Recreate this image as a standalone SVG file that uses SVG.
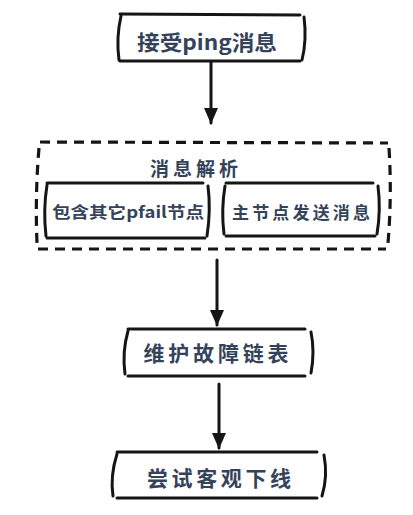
<svg xmlns="http://www.w3.org/2000/svg" width="413" height="515" viewBox="0 0 413 515">
<defs>
<style>
.ln{fill:none;stroke:#151515;stroke-width:3;stroke-linecap:round;stroke-linejoin:round}
.dash{fill:none;stroke:#151515;stroke-width:3.2;stroke-dasharray:10 7;stroke-linecap:butt}
.t{font-family:"Noto Sans CJK SC","Liberation Serif",serif;font-weight:bold;fill:#34435a;text-anchor:middle;dominant-baseline:central}
</style>
<marker id="ah" viewBox="0 0 16 14" refX="15" refY="7" markerWidth="16" markerHeight="14" markerUnits="userSpaceOnUse" orient="auto">
<path d="M0 0 L16 7 L0 14 Z" fill="#151515"/>
</marker>
</defs>
<rect width="413" height="515" fill="#ffffff"/>

<g id="node-receive">
<path class="ln" d="M120 14 L300 15"/>
<path class="ln" d="M120 61 L300 61"/>
<path class="ln" d="M121 16 Q116 38 119 60"/>
<path class="ln" d="M304 17 Q307 40 302 60"/>
<text class="t" x="207" y="41" font-size="21" textLength="140" lengthAdjust="spacingAndGlyphs">接受ping消息</text>
</g>

<g id="group-parse">
<path class="dash" d="M40 142 L388 143"/>
<path class="dash" d="M38 249 L386 249"/>
<path class="dash" d="M39 148 Q35 195 37 243"/>
<path class="dash" d="M389 148 Q392 195 388 243"/>
<text class="t" x="194" y="167" font-size="19" textLength="88" lengthAdjust="spacing">消息解析</text>
</g>

<g id="node-pfail">
<path class="ln" d="M47 183 L203 183"/>
<path class="ln" d="M47 238 L205 238"/>
<path class="ln" d="M47 185 Q43 210 46 236"/>
<path class="ln" d="M208 186 Q211 210 207 236"/>
<text class="t" x="128" y="211" font-size="16" textLength="152" lengthAdjust="spacingAndGlyphs">包含其它pfail节点</text>
</g>

<g id="node-master">
<path class="ln" d="M226 183 L373 183"/>
<path class="ln" d="M226 236 L375 236"/>
<path class="ln" d="M225 186 Q221 210 224 234"/>
<path class="ln" d="M378 186 Q381 210 377 234"/>
<text class="t" x="301" y="211" font-size="17" textLength="138" lengthAdjust="spacing">主节点发送消息</text>
</g>

<g id="node-maintain">
<path class="ln" d="M128 329 L305 329"/>
<path class="ln" d="M128 376 L305 376"/>
<path class="ln" d="M128 331 Q122 352 125 374"/>
<path class="ln" d="M311 332 Q315 352 311 373"/>
<text class="t" x="216" y="352" font-size="21" textLength="145" lengthAdjust="spacing">维护故障链表</text>
</g>

<g id="node-offline">
<path class="ln" d="M117 452 L317 452"/>
<path class="ln" d="M117 498 L317 498"/>
<path class="ln" d="M117 454 Q110 476 113 496"/>
<path class="ln" d="M324 455 Q328 476 322 496"/>
<text class="t" x="219" y="477" font-size="21" textLength="144" lengthAdjust="spacing">尝试客观下线</text>
</g>

<g id="connectors">
<path class="ln" d="M211 62 L211 123" marker-end="url(#ah)"/>
<path class="ln" d="M217 260 L217 325" marker-end="url(#ah)"/>
<path class="ln" d="M219 384 L219 448" marker-end="url(#ah)"/>
</g>
</svg>
